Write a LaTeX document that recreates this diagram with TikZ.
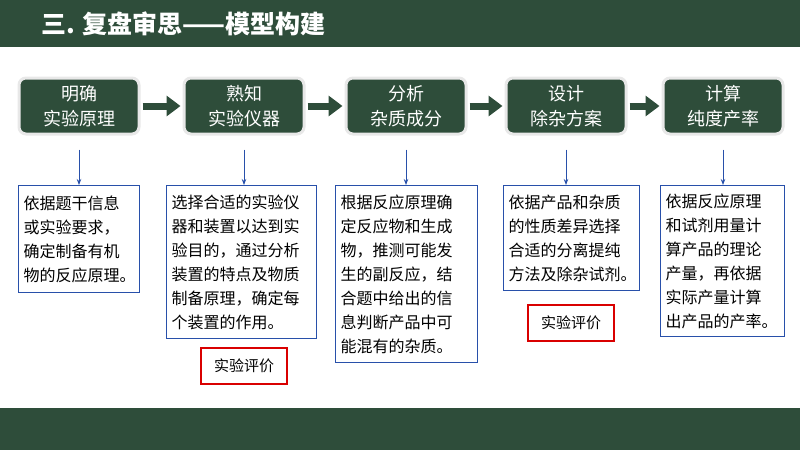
\documentclass[tikz,border=0pt]{standalone}
\usepackage{fontspec}
\setmainfont{Noto Sans CJK SC}
\usetikzlibrary{arrows.meta}
\definecolor{dg}{RGB}{46,77,58}
\definecolor{bl}{RGB}{40,80,170}
\begin{document}
\begin{tikzpicture}[x=1pt,y=-1pt,
 top/.style={fill=dg,rounded corners=7pt,minimum width=120pt,minimum height=56pt,text=white,font=\fontsize{18}{25}\selectfont,align=center,draw=gray!18,line width=3pt},
 desc/.style={draw=bl,line width=1.3pt,anchor=north west,inner sep=0pt,font=\fontsize{16}{24}\selectfont,align=left},
 red/.style={draw=red!85!black,line width=1.5pt,minimum width=86pt,minimum height=36pt,font=\fontsize{15}{18}\selectfont},
 flow/.style={dg,line width=7pt,-{Triangle[length=14pt,width=20pt]}},
 down/.style={bl,line width=0.8pt,-{Stealth[length=6pt]}}]
\useasboundingbox (0,0) rectangle (800,450);
\fill[dg] (0,0) rectangle (800,47);
\fill[dg] (0,408) rectangle (800,450);
\node[anchor=west,text=white,font=\fontsize{25}{28}\selectfont\bfseries] (title) at (38,24) {三. 复盘审思——模型构建};
\node[top] (t1) at (79,106) {明确\\实验原理};
\node[top] (t2) at (244,106) {熟知\\实验仪器};
\node[top] (t3) at (406,106) {分析\\杂质成分};
\node[top] (t4) at (566,106) {设计\\除杂方案};
\node[top] (t5) at (723,106) {计算\\纯度产率};
\foreach \a/\b in {t1/t2,t2/t3,t3/t4,t4/t5}{\draw[flow] (\a.east) ++(2,0) -- ([xshift=-2pt]\b.west);}
\node[desc,minimum width=119pt,minimum height=107pt,text width=111pt,inner xsep=5pt] (d1) at (18,185) {依据题干信息\\或实验要求，\\确定制备有机\\物的反应原理。};
\node[desc,minimum width=148pt,minimum height=153pt,text width=140pt,inner xsep=5pt] (d2) at (166,185) {选择合适的实验仪\\器和装置以达到实\\验目的，通过分析\\装置的特点及物质\\制备原理，确定每\\个装置的作用。};
\node[desc,minimum width=140pt,minimum height=177pt,text width=132pt,inner xsep=5pt] (d3) at (335,185) {根据反应原理确\\定反应物和生成\\物，推测可能发\\生的副反应，结\\合题中给出的信\\息判断产品中可\\能混有的杂质。};
\node[desc,minimum width=134pt,minimum height=105pt,text width=126pt,inner xsep=5pt] (d4) at (503,185) {依据产品和杂质\\的性质差异选择\\合适的分离提纯\\方法及除杂试剂。};
\node[desc,minimum width=122pt,minimum height=151pt,text width=114pt,inner xsep=5pt] (d5) at (660,185) {依据反应原理\\和试剂用量计\\算产品的理论\\产量，再依据\\实际产量计算\\出产品的产率。};
\foreach \i in {1,...,5}{\draw[down] (t\i.south) ++(0,14) -- (t\i.south |- d\i.north);}
\node[red] (r1) at (244,366) {实验评价};
\node[red] (r2) at (571,323) {实验评价};
\end{tikzpicture}
\end{document}
